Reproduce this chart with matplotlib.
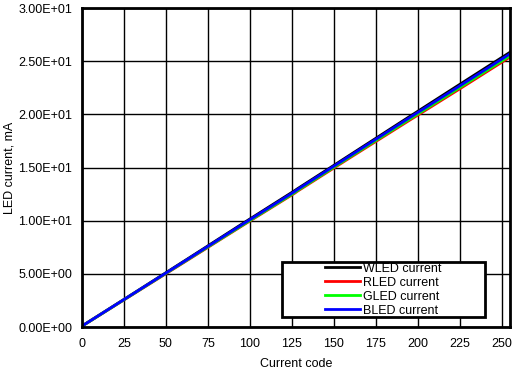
import matplotlib
matplotlib.use("Agg")
import matplotlib.pyplot as plt
from matplotlib.patches import Rectangle

plt.rcParams["font.family"] = ["Liberation Sans", "DejaVu Sans"]
plt.rcParams["font.size"] = 9

codes = [0, 32, 64, 96, 127, 128, 160, 192, 224, 255]
wled = [0.10, 3.30, 6.52, 9.76, 12.86, 12.97, 16.22, 19.48, 22.72, 25.85]
rled = [0.08, 3.24, 6.40, 9.58, 12.62, 12.74, 15.96, 19.14, 22.30, 25.40]
gled = [0.08, 3.26, 6.44, 9.62, 12.68, 12.80, 16.04, 19.24, 22.42, 25.52]
bled = [0.09, 3.28, 6.48, 9.70, 12.78, 12.90, 16.14, 19.38, 22.58, 25.70]

series = [("WLED current", wled, "black"),
          ("RLED current", rled, "#ff0000"),
          ("GLED current", gled, "#00ff00"),
          ("BLED current", bled, "#0000ff")]

xticks = list(range(0, 251, 25))
yticks = [0, 5, 10, 15, 20, 25, 30]

fig = plt.figure(figsize=(5.28, 3.86), dpi=100)
ax = fig.add_axes([0.1553, 0.1528, 0.8107, 0.8262])

for label, vals, color in series:
    ax.plot(codes, vals, color=color, lw=2.0, label=label)

ax.set_xlim(0, 255)
ax.set_ylim(0, 30)
ax.set_xticks(xticks)
ax.set_yticks(yticks)
ax.set_yticklabels([f"{v:.2E}" for v in yticks])
ax.tick_params(axis="y", length=0, pad=7)
ax.tick_params(axis="x", length=0, pad=8)
ax.grid(True, color="black", lw=1.0)
ax.set_axisbelow(True)
for s in ax.spines.values():
    s.set_linewidth(2.0)

ax.set_xlabel("Current code", labelpad=6)
ax.set_ylabel("LED current, mA", labelpad=2)

# legend box drawn separately so the entries sit centred inside a wide frame
x0, x1, y0, y1 = 0.467, 0.942, 0.031, 0.204
ax.add_patch(Rectangle((x0, y0), x1 - x0, y1 - y0, transform=ax.transAxes,
                       facecolor="white", edgecolor="black", lw=2.0, zorder=5))
leg = ax.legend(loc="center", bbox_to_anchor=((x0 + x1) / 2, (y0 + y1) / 2),
                frameon=False, handlelength=2.8, handletextpad=0.25,
                labelspacing=0.16, borderpad=0)
leg.set_zorder(6)

fig.savefig("out.png", dpi=100)
